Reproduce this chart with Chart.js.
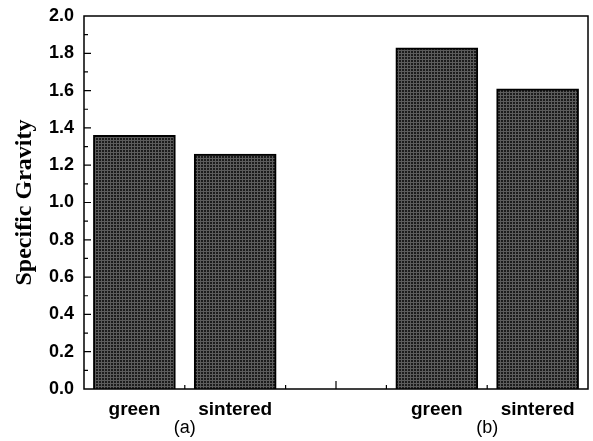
<!DOCTYPE html>
<html>
<head>
<meta charset="utf-8">
<script src="https://cdn.jsdelivr.net/npm/chart.js@4/dist/chart.umd.min.js"></script>
<style>
  html, body { margin: 0; padding: 0; background: #fff; }
  #wrap { width: 593px; height: 441px; }
</style>
</head>
<body>
<div id="wrap"><canvas id="chart"></canvas></div>
<script>
// values
const groups = ['(a)', '(b)'];
const samples = ['green', 'sintered'];
const valuesA = [1.36, 1.26];
const valuesB = [1.83, 1.61];
const yTicks = [0, 2, 0.2]; // min, max, step

// x position of each bar: groups of two with an empty slot between
const groupValues = [valuesA, valuesB];
const points = [];
const labelAt = {};
groups.forEach((g, gi) => {
  samples.forEach((s, si) => {
    const x = gi * 3 + si + 1;
    points.push({ x: x, y: groupValues[gi][si] });
    labelAt[x] = s;
  });
  labelAt[gi * 3 + 1.5] = ['', g];
});
const xMinorTicks = [1.5, 2.5, 3.5, 4.5];
const xMajorTicks = [3];

// crosshatched dark fill like the scanned bars
const makeHatch = () => {
  const c = document.createElement('canvas');
  c.width = 3; c.height = 3;
  const g = c.getContext('2d');
  g.fillStyle = '#1c1c1c';
  g.fillRect(0, 0, 3, 3);
  g.fillStyle = '#5c5c5c';
  g.fillRect(0, 2, 3, 1);
  g.fillRect(2, 0, 1, 3);
  return g.createPattern(c, 'repeat');
};

// frame and inward tick marks
const framePlugin = {
  id: 'frame',
  afterDraw(chart) {
    const { ctx, chartArea: a, scales } = chart;
    ctx.save();
    ctx.strokeStyle = '#000';
    ctx.lineWidth = 1.5;
    ctx.strokeRect(a.left, a.top, a.right - a.left, a.bottom - a.top);
    ctx.lineWidth = 1.2;
    ctx.beginPath();
    const steps = Math.round((yTicks[1] - yTicks[0]) / (yTicks[2] / 2));
    for (let i = 1; i < steps; i++) {
      const y = scales.y.getPixelForValue(yTicks[0] + i * yTicks[2] / 2);
      const len = i % 2 === 0 ? 7 : 4;
      ctx.moveTo(a.left, y);
      ctx.lineTo(a.left + len, y);
    }
    xMinorTicks.forEach(v => {
      const x = scales.x.getPixelForValue(v);
      ctx.moveTo(x, a.bottom);
      ctx.lineTo(x, a.bottom - 4);
    });
    xMajorTicks.forEach(v => {
      const x = scales.x.getPixelForValue(v);
      ctx.moveTo(x, a.bottom);
      ctx.lineTo(x, a.bottom - 8);
    });
    ctx.stroke();
    ctx.restore();
  }
};

const ctx = document.getElementById('chart').getContext('2d');
new Chart(ctx, {
  type: 'bar',
  data: {
    datasets: [{
      data: points,
      backgroundColor: makeHatch(),
      borderColor: '#000',
      borderWidth: 2,
      barThickness: 82
    }]
  },
  options: {
    responsive: true,
    maintainAspectRatio: false,
    animation: false,
    layout: { padding: { top: 16, right: 5, left: 0, bottom: 0 } },
    plugins: { legend: { display: false }, tooltip: { enabled: false } },
    scales: {
      x: {
        type: 'linear',
        offset: false,
        min: 0.5,
        max: 5.5,
        afterFit: s => { s.height = 52; },
        grid: { display: false },
        border: { display: false },
        ticks: {
          stepSize: 0.5,
          autoSkip: false,
          maxRotation: 0,
          padding: 3,
          color: '#000',
          font: c => (c.tick && c.tick.value % 1 === 0)
            ? { family: 'Arial, "Liberation Sans", sans-serif', size: 19, weight: 'bold', lineHeight: 1.0 }
            : { family: 'Arial, "Liberation Sans", sans-serif', size: 18, weight: 'normal', lineHeight: 1.05 },
          callback: v => labelAt[v] !== undefined ? labelAt[v] : ''
        }
      },
      y: {
        min: yTicks[0],
        max: yTicks[1],
        afterFit: s => { s.width = 84; },
        grid: { display: false },
        border: { display: false },
        ticks: {
          stepSize: yTicks[2],
          padding: 2,
          color: '#000',
          font: { family: 'Arial, "Liberation Sans", sans-serif', size: 18, weight: 'bold' },
          callback: v => v.toFixed(1)
        },
        title: {
          display: true,
          text: 'Specific Gravity',
          color: '#000',
          padding: { top: 10, bottom: 0 },
          font: { family: '"Liberation Serif", "Times New Roman", serif', size: 24, weight: 'bold' }
        }
      }
    }
  },
  plugins: [framePlugin]
});
</script>
</body>
</html>
